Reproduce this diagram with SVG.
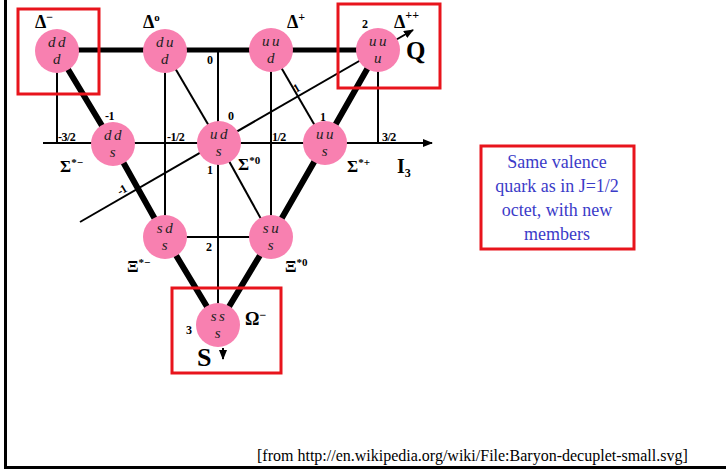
<svg xmlns="http://www.w3.org/2000/svg" width="726" height="471" viewBox="0 0 726 471">
<style>
.thick{stroke:#000;stroke-width:6;fill:none;stroke-linecap:butt}
.top{stroke:#000;stroke-width:5;fill:none}
.thin{stroke:#000;stroke-width:2;fill:none}
.ball{fill:#f880b0}
.q{font-family:"Liberation Serif",serif;font-style:italic;font-size:15px;fill:#222;text-anchor:middle;letter-spacing:2.5px}
.lab{font-family:"Liberation Serif",serif;font-weight:bold;fill:#000}
.num{font-family:"Liberation Serif",serif;font-weight:bold;font-size:12px;fill:#000;letter-spacing:-0.5px}
.red{fill:none;stroke:#e8141c;stroke-width:3}
.note{font-family:"Liberation Serif",serif;font-size:18px;fill:#3b3bc8;text-anchor:middle}
</style>
<defs>
<marker id="ah" markerWidth="10" markerHeight="8" refX="9" refY="4" orient="auto" markerUnits="userSpaceOnUse">
<path d="M0,0 L10,4 L0,8 Z" fill="#000"/>
</marker>
</defs>
<rect width="726" height="471" fill="#fff"/>
<g id="frame">
<line x1="5.5" y1="0" x2="5.5" y2="469" stroke="#000" stroke-width="3"/>
<line x1="4" y1="467.5" x2="726" y2="467.5" stroke="#000" stroke-width="3"/>
</g>
<g id="connectors">
<line class="thin" x1="43" y1="143" x2="432" y2="143" marker-end="url(#ah)"/>
<line class="thin" x1="80" y1="222" x2="413" y2="30" marker-end="url(#ah)"/>
<line class="thin" x1="57" y1="51" x2="57" y2="143"/>
<line class="thin" x1="165" y1="51" x2="165" y2="237"/>
<line class="thin" x1="218" y1="50" x2="218" y2="325"/>
<line class="thin" x1="271" y1="50" x2="271" y2="237"/>
<line class="thin" x1="378" y1="50" x2="378" y2="143"/>
<line class="thin" x1="165" y1="237" x2="271" y2="237"/>
<line class="thin" x1="165" y1="51" x2="219" y2="143"/>
<line class="thin" x1="271" y1="50" x2="325" y2="143"/>
<line class="thin" x1="219" y1="143" x2="271" y2="237"/>
<line class="top" x1="57" y1="50" x2="378" y2="50"/>
<polyline class="thick" points="57,51 113,144 165,237 218,325"/>
<polyline class="thick" points="378,50 325,143 271,237 218,325"/>
<line x1="223" y1="348" x2="223" y2="359" stroke="#000" stroke-width="2" marker-end="url(#ah)"/>
</g>
<g id="n-ddd"><circle class="ball" cx="57" cy="51" r="22"/><text class="q"><tspan x="58" y="47">dd</tspan><tspan x="58" y="64">d</tspan></text></g>
<g id="n-dud"><circle class="ball" cx="165" cy="51" r="22"/><text class="q"><tspan x="166" y="47">du</tspan><tspan x="166" y="64">d</tspan></text></g>
<g id="n-uud"><circle class="ball" cx="271" cy="50" r="22"/><text class="q"><tspan x="272" y="46">uu</tspan><tspan x="272" y="63">d</tspan></text></g>
<g id="n-uuu"><circle class="ball" cx="378" cy="50" r="22"/><text class="q"><tspan x="379" y="46">uu</tspan><tspan x="379" y="63">u</tspan></text></g>
<g id="n-dds"><circle class="ball" cx="113" cy="144" r="22"/><text class="q"><tspan x="114" y="140">dd</tspan><tspan x="114" y="157">s</tspan></text></g>
<g id="n-uds"><circle class="ball" cx="219" cy="143" r="22"/><text class="q"><tspan x="220" y="139">ud</tspan><tspan x="220" y="156">s</tspan></text></g>
<g id="n-uus"><circle class="ball" cx="325" cy="143" r="22"/><text class="q"><tspan x="326" y="139">uu</tspan><tspan x="326" y="156">s</tspan></text></g>
<g id="n-sds"><circle class="ball" cx="165" cy="237" r="22"/><text class="q"><tspan x="166" y="233">sd</tspan><tspan x="166" y="250">s</tspan></text></g>
<g id="n-sus"><circle class="ball" cx="271" cy="237" r="22"/><text class="q"><tspan x="272" y="233">su</tspan><tspan x="272" y="250">s</tspan></text></g>
<g id="n-sss"><circle class="ball" cx="218" cy="325" r="22"/><text class="q"><tspan x="219" y="321">ss</tspan><tspan x="219" y="338">s</tspan></text></g>
<g id="labels">
<text class="lab" x="35" y="28" font-size="18">Δ<tspan font-size="12" dy="-7">−</tspan></text>
<text class="lab" x="143" y="28" font-size="18">Δ<tspan font-size="11" dy="-7">o</tspan></text>
<text class="lab" x="287" y="28" font-size="18">Δ<tspan font-size="12" dy="-7">+</tspan></text>
<text class="lab" x="394" y="28" font-size="18">Δ<tspan font-size="12" dy="-9">++</tspan></text>
<text class="lab" x="406" y="59" font-size="25">Q</text>
<text class="num" x="362" y="28">2</text>
<text class="num" x="207" y="64">0</text>
<text class="num" x="228" y="120">0</text>
<text class="num" x="105" y="120">-1</text>
<text class="num" x="320" y="121">1</text>
<text class="num" x="58" y="141">-3/2</text>
<text class="num" x="167" y="141">-1/2</text>
<text class="num" x="272" y="141">1/2</text>
<text class="num" x="382" y="141">3/2</text>
<text class="num" x="207" y="174">1</text>
<text class="num" x="206" y="251">2</text>
<text class="num" x="186" y="334">3</text>
<text class="num" x="118" y="194" font-size="9" transform="rotate(-30 122 191)">-1</text>
<text class="num" x="294" y="92" font-size="9" transform="rotate(-30 297 89)">1</text>
<text class="lab" x="60" y="172" font-size="17">Σ<tspan font-size="11" dy="-6">*−</tspan></text>
<text class="lab" x="238" y="170" font-size="17">Σ<tspan font-size="11" dy="-6">*0</tspan></text>
<text class="lab" x="347" y="172" font-size="17">Σ<tspan font-size="11" dy="-6">*+</tspan></text>
<text class="lab" x="397" y="173" font-size="20">I<tspan font-size="12" dy="4">3</tspan></text>
<text class="lab" x="127" y="272" font-size="17">Ξ<tspan font-size="11" dy="-6">*−</tspan></text>
<text class="lab" x="285" y="272" font-size="17">Ξ<tspan font-size="11" dy="-6">*0</tspan></text>
<text class="lab" x="245" y="325" font-size="18">Ω<tspan font-size="12" dy="-6">−</tspan></text>
<text class="lab" x="197" y="366" font-size="26">S</text>
</g>
<g id="highlights">
<rect class="red" x="18" y="9" width="81" height="85"/>
<rect class="red" x="338" y="4" width="102" height="84"/>
<rect class="red" x="172" y="288" width="109" height="85"/>
</g>
<g id="note">
<rect x="481" y="146" width="153" height="103" fill="#fff" stroke="#e8141c" stroke-width="3"/>
<text class="note" x="557" y="168">Same valence</text>
<text class="note" x="557" y="192">quark as in J=1/2</text>
<text class="note" x="557" y="216">octet, with new</text>
<text class="note" x="557" y="240">members</text>
</g>
<text x="257" y="461" font-family="Liberation Serif, serif" font-size="16" fill="#000">[from http://en.wikipedia.org/wiki/File:Baryon-decuplet-small.svg]</text>
</svg>
